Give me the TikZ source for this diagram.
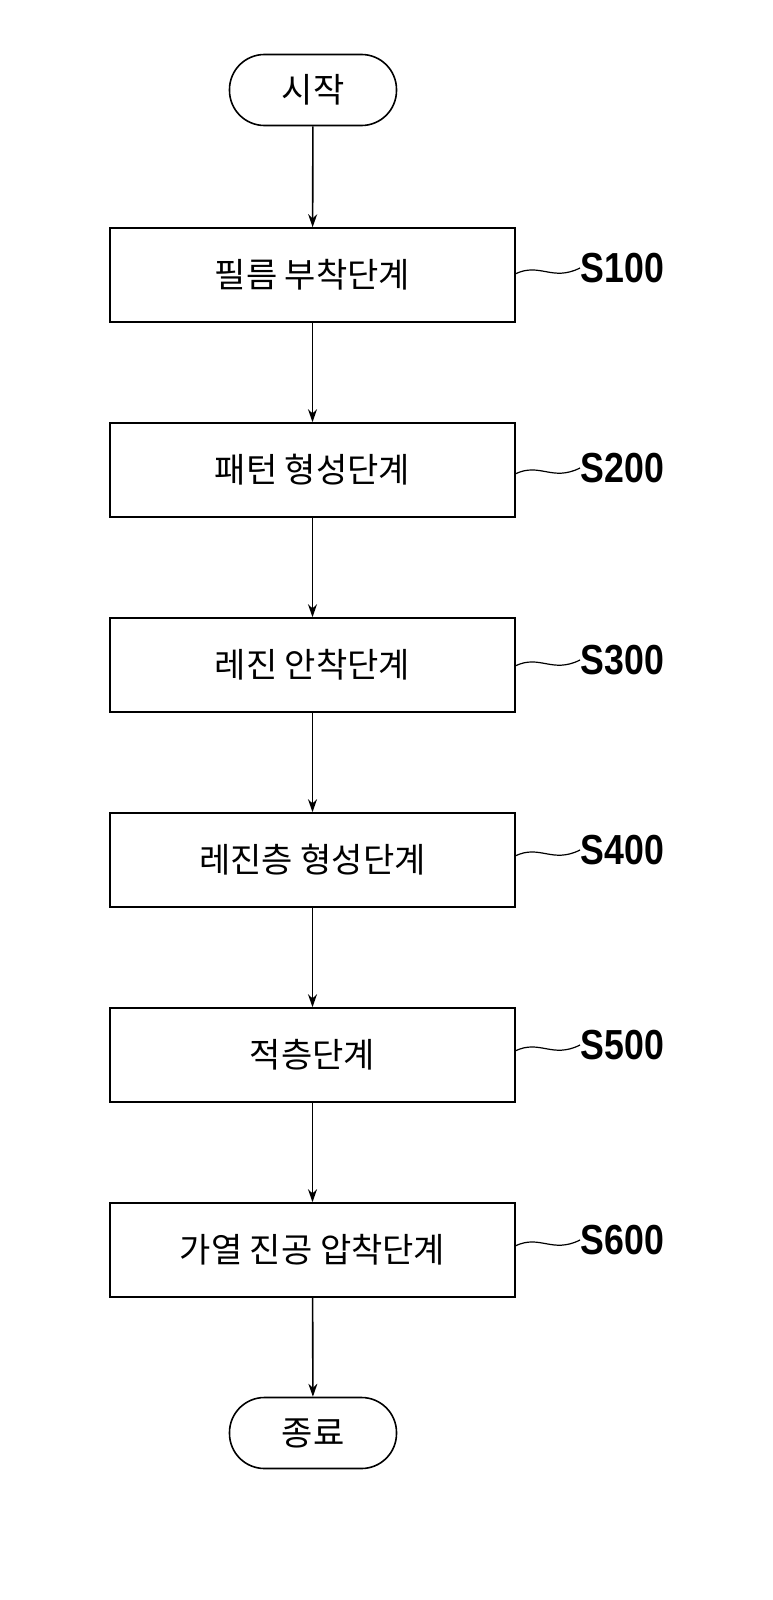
\documentclass[tikz,border=0pt]{standalone}
\usepackage{fontspec}
\newfontfamily\kr{Noto Sans CJK KR}
\setmainfont{Liberation Sans}
\usetikzlibrary{arrows.meta}
\begin{document}
\begin{tikzpicture}[x=1pt,y=-1pt,line width=1.6pt,
  box/.style={draw,minimum width=405pt,minimum height=94pt,font=\kr\fontsize{34}{36}\selectfont},
  term/.style={draw,rounded corners=35pt,minimum width=167pt,minimum height=71pt,font=\kr\fontsize{34}{36}\selectfont},
  lab/.style={anchor=west,inner sep=0pt,xscale=0.85,font=\bfseries\fontsize{42}{44}\selectfont},
  arr/.style={-{Stealth[length=13pt,width=9pt]}}]
\useasboundingbox (0,0) rectangle (772,1600);
\node[term] (st) at (313,90) {시작};
\node[box] (b1) at (312.5,275) {필름 부착단계};
\node[box] (b2) at (312.5,470) {패턴 형성단계};
\node[box] (b3) at (312.5,665) {레진 안착단계};
\node[box] (b4) at (312.5,860) {레진층 형성단계};
\node[box] (b5) at (312.5,1055) {적층단계};
\node[box] (b6) at (312.5,1250) {가열 진공 압착단계};
\node[term] (en) at (313,1433) {종료};
\draw[arr] (st) -- (b1);
\draw[arr] (b1) -- (b2);
\draw[arr] (b2) -- (b3);
\draw[arr] (b3) -- (b4);
\draw[arr] (b4) -- (b5);
\draw[arr] (b5) -- (b6);
\draw[arr] (b6) -- (en);
\foreach \i/\y/\t in {1/268/S100,2/468/S200,3/660/S300,4/850/S400,5/1045/S500,6/1240/S600}{
  \node[lab] (l\i) at (580,\y) {\t};
  \draw[line width=1.2pt] (515,\y+6) .. controls (540,\y-6) and (552,\y+14) .. (l\i.west);
}
\end{tikzpicture}
\end{document}
